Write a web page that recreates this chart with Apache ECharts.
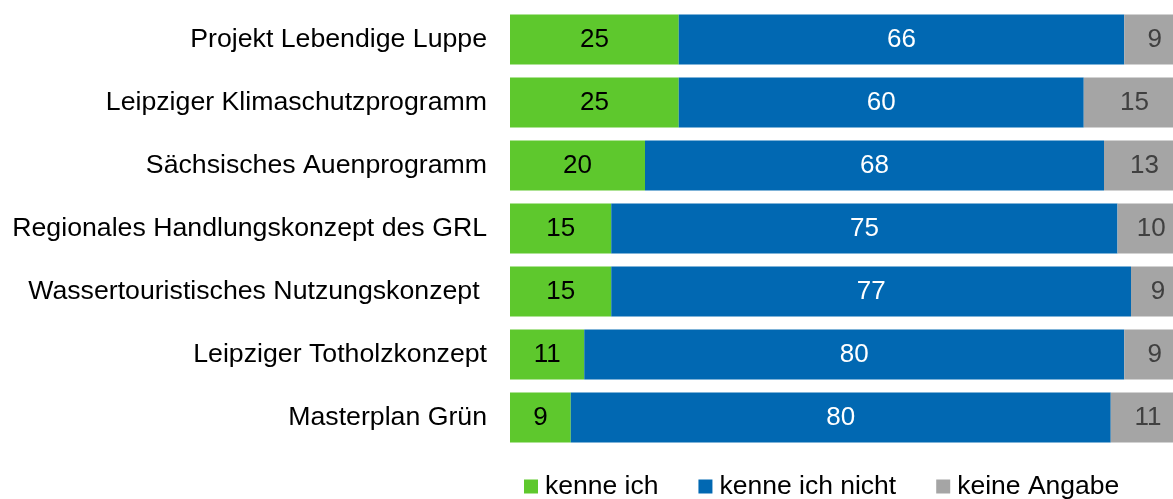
<!DOCTYPE html>
<html>
<head>
<meta charset="utf-8">
<script src="https://cdn.jsdelivr.net/npm/echarts@6/dist/echarts.min.js"></script>
<style>
  html, body { margin: 0; padding: 0; background: #fff; }
  #chart { width: 1173px; height: 499px; }
</style>
</head>
<body>
<div id="chart"></div>
<script>
// Bekanntheit der Konzepte (in %)
const categories = [
  'Projekt Lebendige Luppe',
  'Leipziger Klimaschutzprogramm',
  'Sächsisches Auenprogramm',
  'Regionales Handlungskonzept des GRL',
  'Wassertouristisches Nutzungskonzept ',
  'Leipziger Totholzkonzept',
  'Masterplan Grün'
]
const kenneIch = [25, 25, 20, 15, 15, 11, 9]
const kenneIchNicht = [66, 60, 68, 75, 77, 80, 80]
const keineAngabe = [9, 15, 13, 10, 9, 9, 11]

const font = 'Liberation Sans, Arial, sans-serif'

const chart = echarts.init(document.getElementById('chart'))

const makeSeries = (name, data, color, labelColor) => ({
  name: name,
  type: 'bar',
  stack: 'total',
  data: data,
  barWidth: 50,
  itemStyle: { color: color },
  label: {
    show: true,
    position: 'inside',
    color: labelColor,
    fontSize: 26,
    fontFamily: font,
  },
})

const option = {
  animation: false,
  // plot runs a bit past the right edge, like the original export
  grid: {
    left: 510,
    top: 8,
    width: 675,
    height: 441,
    containLabel: false,
    outerBoundsMode: 'none',
  },
  xAxis: {
    type: 'value',
    min: 0,
    max: 100,
    show: false,
  },
  yAxis: {
    type: 'category',
    inverse: true,
    data: categories,
    axisLine: { show: false },
    axisTick: { show: false },
    axisLabel: {
      margin: 23,
      color: '#000',
      fontSize: 26.7,
      fontFamily: font,
    },
  },
  legend: {
    top: 473,
    left: 524,
    padding: 0,
    itemWidth: 14,
    itemHeight: 14,
    itemGap: 40,
    icon: 'rect',
    textStyle: {
      color: '#000',
      fontSize: 26.5,
      fontFamily: font,
      padding: [0, 0, 0, 2],
    },
  },
  series: [
    makeSeries('kenne ich', kenneIch, '#5EC82D', '#000'),
    makeSeries('kenne ich nicht', kenneIchNicht, '#0168B2', '#fff'),
    makeSeries('keine Angabe', keineAngabe, '#A5A5A5', '#404040'),
  ],
}

chart.setOption(option)
</script>
</body>
</html>
